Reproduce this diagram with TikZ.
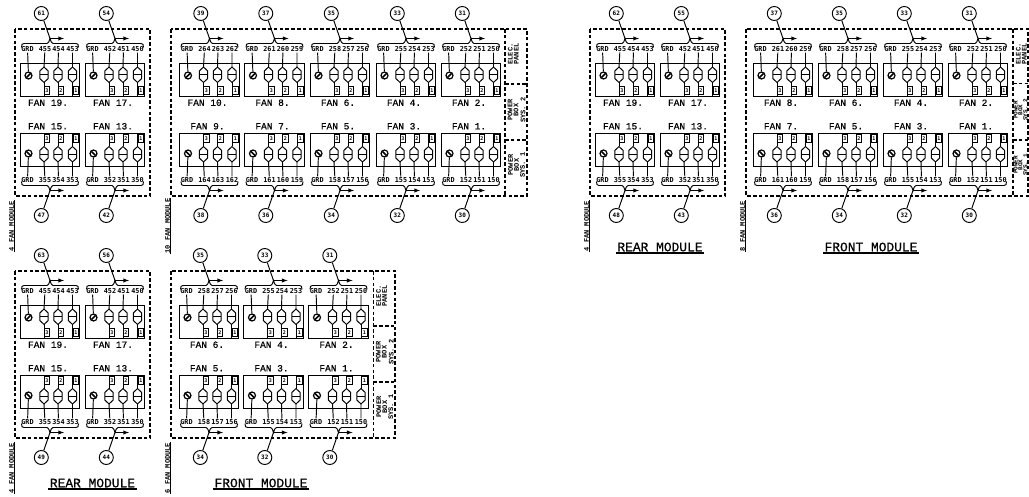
\documentclass[tikz,border=0pt]{standalone}
\usepackage{fontspec}
\newfontfamily\cadfont{Liberation Mono}
\newfontfamily\namefont[FakeBold=0.5]{Liberation Mono}
\newfontfamily\termfont{DejaVu Sans Mono}
\usetikzlibrary{positioning}

% one fan: id, x of box, side (-1 above the midline, 1 below), fan, tag, terminals
\newcommand{\fanunit}[8]{
  \begin{scope}[shift={(#2,0)}, yscale=#3]
    % box and name
    \node [fanbox] (#1-box) at (29.75, 35) {};
    \node [fanname] (#1-name) at (28, 11.8) {FAN #4.};

    % terminal row
    \node [term] (#1-tg) at (7.5, 65.5) {GRD};
    \node [term] (#1-ta) at (25, 65.5) {#6};
    \node [term] (#1-tb) at (38.5, 65.5) {#7};
    \node [term] (#1-tc) at (52.5, 65.5) {#8};

    % ground
    \node [gnd] (#1-gnd) at (8.5, 39) {};
    \draw [line width=1.7pt] (6.4, 36.9) -- (10.6, 41.1);
    \draw (#1-tg) -- (#1-gnd);

    % fuses
    \coordinate (#1-fa) at (24, 47.5);
    \coordinate (#1-fb) at (38, 47.5);
    \coordinate (#1-fc) at (52.5, 47.5);
    \coordinate (#1-ea) at (24, 18.5);
    \coordinate (#1-eb) at (38, 18.5);
    \coordinate (#1-ec) at (52.5, 18.5);
    \draw (#1-ta) -- (#1-fa) (#1-tb) -- (#1-fb) (#1-tc) -- (#1-fc);
    \draw (24, 32) -- (#1-ea) (38, 32) -- (#1-eb) (52.5, 32) -- (#1-ec);
    \draw (24, 47.5) -- ++(4.2, -4) -- ++(0, -7.5) -- ++(-4.2, -4)
          -- ++(-4.2, 4) -- ++(0, 7.5) -- cycle (19.8, 40) -- (28.2, 40);
    \draw (38, 47.5) -- ++(4.2, -4) -- ++(0, -7.5) -- ++(-4.2, -4)
          -- ++(-4.2, 4) -- ++(0, 7.5) -- cycle (33.8, 40) -- (42.2, 40);
    \draw (52.5, 47.5) -- ++(4.2, -4) -- ++(0, -7.5) -- ++(-4.2, -4)
          -- ++(-4.2, 4) -- ++(0, 7.5) -- cycle (48.3, 40) -- (56.7, 40);

    % numbered pins
    \node [pin] (#1-pa) at (26.8, 24) {3};
    \node [pin] (#1-pb) at (40.8, 24) {2};
    \node [pin] (#1-pc) at (55.8, 24) {1};

    % bracket, arrow and tag
    \draw (1.5, 67) .. controls (1.5, 70) and (2, 71) .. (4, 71) -- (27, 71)
          .. controls (28.5, 71) and (29, 73) .. (30, 76)
          .. controls (31, 73) and (31.5, 71) .. (33, 71) -- (56, 71)
          .. controls (58, 71) and (58.5, 70) .. (58.5, 67);
    \coordinate (#1-tip) at (30, 76);
    \coordinate (#1-head) at (44, 76);
    \draw [->] (#1-tip) -- (#1-head);
    \node [tagnode] (#1-tag) at (21.3, 101) {#5};
    \draw (#1-tag) -- (#1-tip);
  \end{scope}
}

\begin{document}
\begin{tikzpicture}[x=1pt, y=-1pt, >=latex, line width=0.95pt,
    dashbox/.style={dash pattern=on 3.6pt off 2.2pt, line width=1.05pt},
    fanbox/.style={draw, fill=white, minimum width=59.5pt, minimum height=33pt, inner sep=0pt},
    fanname/.style={font=\namefont\fontsize{9.5}{10}\selectfont, inner sep=0pt},
    term/.style={font=\termfont\fontsize{6.8}{7}\selectfont\bfseries, inner sep=0.5pt},
    gnd/.style={draw, circle, minimum size=7pt, inner sep=0pt, line width=1.2pt},
    pin/.style={draw, minimum width=5.5pt, minimum height=7.5pt, inner sep=0pt,
      font=\termfont\fontsize{5}{5}\selectfont\bfseries},
    tagnode/.style={draw, circle, minimum size=14pt, inner sep=0pt, fill=white,
      font=\termfont\fontsize{6}{6}\selectfont\bfseries},
    sidetext/.style={rotate=90, align=center, inner sep=0pt,
      font=\cadfont\fontsize{7}{6}\selectfont\bfseries},
    sidenarrow/.style={rotate=90, align=center, inner sep=0pt,
      font=\cadfont\fontsize{6}{4.8}\selectfont\bfseries},
    modlabel/.style={rotate=90, inner sep=0.5pt,
      font=\cadfont\fontsize{7}{7}\selectfont\bfseries},
    title/.style={font=\namefont\fontsize{12.9}{13}\selectfont, inner sep=1pt}]

  \path [use as bounding box, clip] (0, 0) rectangle (1029, 497);

  % top left, rear
  \begin{scope}[shift={(0, 114.5)}]
    \draw [dashbox] (15, -85.5) rectangle (150, 81.5);
    \fanunit{a19}{20}{-1}{19}{61}{455}{454}{453}
    \fanunit{a17}{85}{-1}{17}{54}{452}{451}{450}
    \fanunit{a15}{20}{1}{15}{47}{355}{354}{353}
    \fanunit{a13}{85}{1}{13}{42}{352}{351}{350}
    \node [modlabel] (amod) at (11.5, 111.5) {4 FAN MODULE};
    \draw (amod.south west) -- (amod.south east);
  \end{scope}

  % top middle, front
  \begin{scope}[shift={(0, 114.5)}]
    \draw [dashbox] (171, -85.5) rectangle (527, 81.5);
    \draw [dashbox] (505, -85.5) -- (505, 81.5);
    \draw [dashbox] (505, -30.5) -- (527, -30.5);
    \draw [dashbox] (505, 25.5) -- (527, 25.5);
    \fanunit{b10}{179.5}{-1}{10}{39}{264}{263}{262}
    \fanunit{b8}{244.5}{-1}{8}{37}{261}{260}{259}
    \fanunit{b6}{310}{-1}{6}{35}{258}{257}{256}
    \fanunit{b4}{376}{-1}{4}{33}{255}{254}{253}
    \fanunit{b2}{441}{-1}{2}{31}{252}{251}{250}
    \fanunit{b9}{179.5}{1}{9}{38}{164}{163}{162}
    \fanunit{b7}{244.5}{1}{7}{36}{161}{160}{159}
    \fanunit{b5}{310}{1}{5}{34}{158}{157}{156}
    \fanunit{b3}{376}{1}{3}{32}{155}{154}{153}
    \fanunit{b1}{441}{1}{1}{30}{152}{151}{150}
    \node [sidetext] (bpanel) at (513.3, -60.5) {ELEC.\\PANEL};
    \node [sidetext] (bsys2) at (516.5, -4.5) {POWER\\BOX\\[1pt]SYS. 2};
    \node [sidetext] (bsys1) at (516.5, 50.5) {POWER\\BOX\\SYS. 1};
    \node [modlabel] (bmod) at (167.5, 111.5) {10 FAN MODULE};
    \draw (bmod.south west) -- (bmod.south east);
  \end{scope}

  % top right, rear
  \begin{scope}[shift={(0, 114.5)}]
    \draw [dashbox] (590, -85.5) rectangle (725, 81.5);
    \fanunit{c19}{595}{-1}{19}{62}{455}{454}{453}
    \fanunit{c17}{660}{-1}{17}{55}{452}{451}{450}
    \fanunit{c15}{595}{1}{15}{48}{355}{354}{353}
    \fanunit{c13}{660}{1}{13}{43}{352}{351}{350}
    \node [modlabel] (cmod) at (586.5, 111.5) {4 FAN MODULE};
    \draw (cmod.south west) -- (cmod.south east);
    \node [title] (ctitle) at (660, 132.5) {REAR MODULE};
    \draw [line width=1.3pt] (ctitle.south west) -- (ctitle.south east);
  \end{scope}

  % top right, front
  \begin{scope}[shift={(0, 114.5)}]
    \draw [dashbox] (746, -85.5) rectangle (1028, 81.5);
    \draw [dashbox] (1013, -85.5) -- (1013, 81.5);
    \draw [dashbox] (1013, -31) -- (1028, -31);
    \draw [dashbox] (1013, 25.5) -- (1028, 25.5);
    \fanunit{d8}{753}{-1}{8}{37}{261}{260}{259}
    \fanunit{d6}{818}{-1}{6}{35}{258}{257}{256}
    \fanunit{d4}{883}{-1}{4}{33}{255}{254}{253}
    \fanunit{d2}{948}{-1}{2}{31}{252}{251}{250}
    \fanunit{d7}{753}{1}{7}{36}{161}{160}{159}
    \fanunit{d5}{818}{1}{5}{34}{158}{157}{156}
    \fanunit{d3}{883}{1}{3}{32}{155}{154}{153}
    \fanunit{d1}{948}{1}{1}{30}{152}{151}{150}
    \node [sidetext] (dpanel) at (1021.3, -60.5) {ELEC.\\PANEL};
    \node [sidenarrow] (dsys2) at (1020.5, -4.5) {POWER\\BOX\\SYS. 2};
    \node [sidenarrow] (dsys1) at (1020.5, 50.5) {POWER\\BOX\\SYS. 1};
    \node [modlabel] (dmod) at (742.5, 111.5) {8 FAN MODULE};
    \draw (dmod.south west) -- (dmod.south east);
    \node [title] (dtitle) at (871, 132.5) {FRONT MODULE};
    \draw [line width=1.3pt] (dtitle.south west) -- (dtitle.south east);
  \end{scope}

  % bottom left, rear
  \begin{scope}[shift={(0, 356.5)}]
    \draw [dashbox] (15, -85.5) rectangle (150, 81.5);
    \fanunit{e19}{20}{-1}{19}{63}{455}{454}{453}
    \fanunit{e17}{85}{-1}{17}{56}{452}{451}{450}
    \fanunit{e15}{20}{1}{15}{49}{355}{354}{353}
    \fanunit{e13}{85}{1}{13}{44}{352}{351}{350}
    \node [modlabel] (emod) at (11.5, 111.5) {4 FAN MODULE};
    \draw (emod.south west) -- (emod.south east);
    \node [title] (etitle) at (92.5, 126.5) {REAR MODULE};
    \draw [line width=1.3pt] (etitle.south west) -- (etitle.south east);
  \end{scope}

  % bottom middle, front
  \begin{scope}[shift={(0, 356.5)}]
    \draw [dashbox] (171, -85.5) rectangle (395, 81.5);
    \draw [dashbox] (373.3, -85.5) -- (373.3, 81.5);
    \draw [dashbox] (373.3, -30.5) -- (395, -30.5);
    \draw [dashbox] (373.3, 25.5) -- (395, 25.5);
    \fanunit{f6}{179}{-1}{6}{35}{258}{257}{256}
    \fanunit{f4}{243.5}{-1}{4}{33}{255}{254}{253}
    \fanunit{f2}{308.5}{-1}{2}{31}{252}{251}{250}
    \fanunit{f5}{179}{1}{5}{34}{158}{157}{156}
    \fanunit{f3}{243.5}{1}{3}{32}{155}{154}{153}
    \fanunit{f1}{308.5}{1}{1}{30}{152}{151}{150}
    \node [sidetext] (fpanel) at (381.6, -60.5) {ELEC.\\PANEL};
    \node [sidetext] (fsys2) at (384.8, -4.5) {POWER\\BOX\\[1pt]SYS. 2};
    \node [sidetext] (fsys1) at (384.8, 50.5) {POWER\\BOX\\SYS. 1};
    \node [modlabel] (fmod) at (167.5, 111.5) {6 FAN MODULE};
    \draw (fmod.south west) -- (fmod.south east);
    \node [title] (ftitle) at (261, 126.5) {FRONT MODULE};
    \draw [line width=1.3pt] (ftitle.south west) -- (ftitle.south east);
  \end{scope}
\end{tikzpicture}
\end{document}
